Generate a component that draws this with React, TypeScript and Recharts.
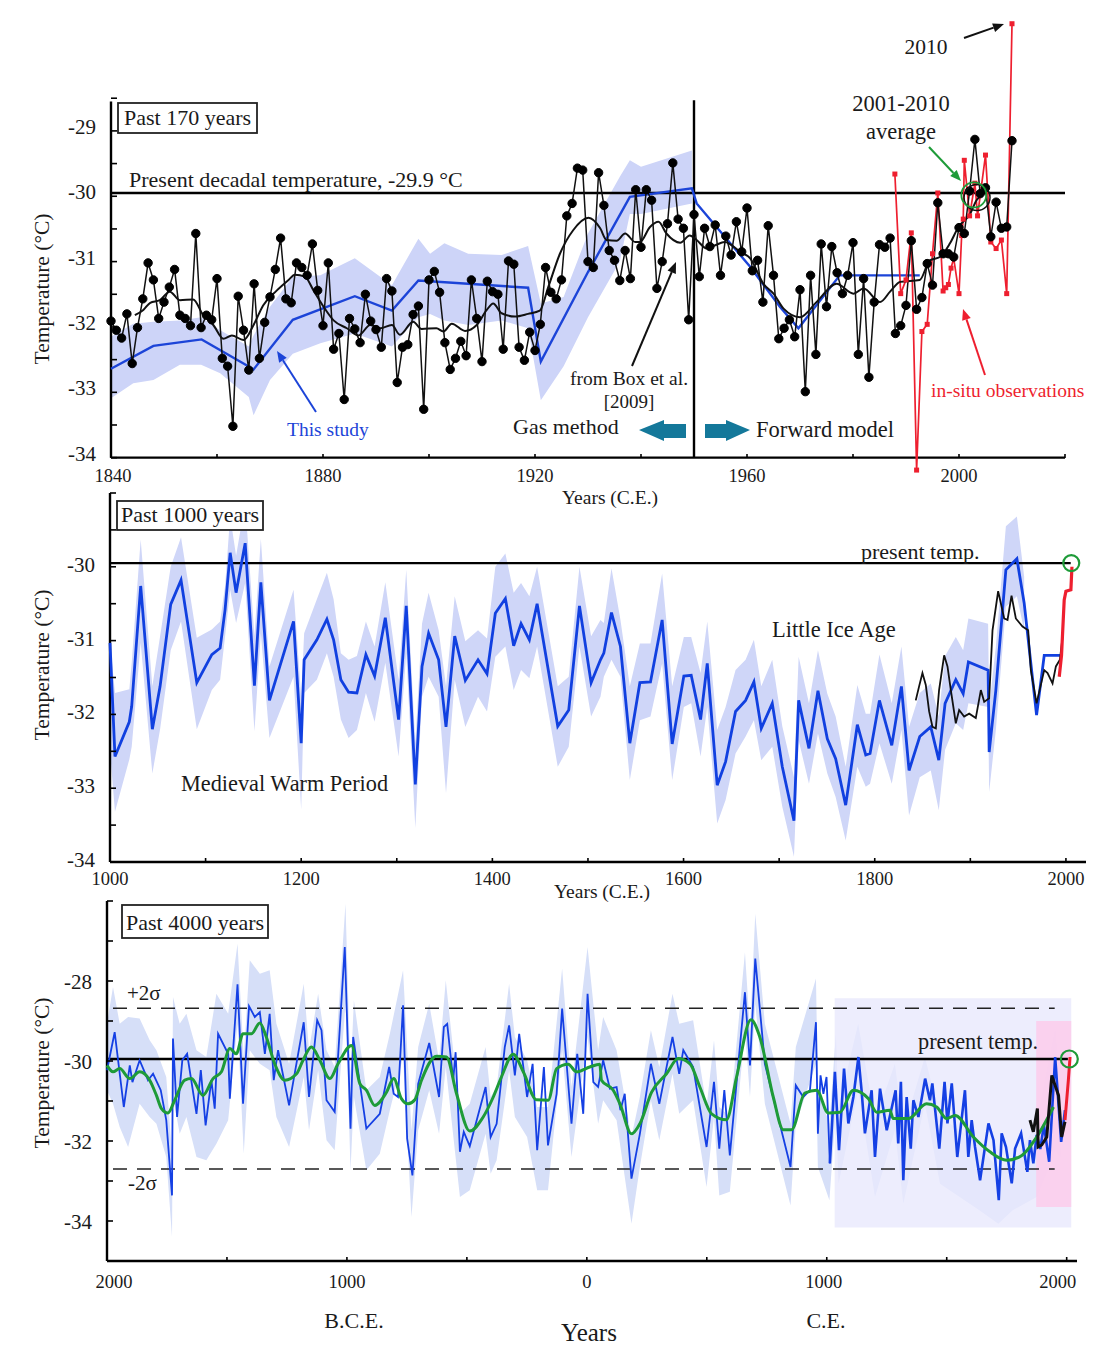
import { ComposedChart, Line, Area, XAxis, YAxis, ReferenceLine, ReferenceArea, ReferenceDot } from "recharts";

type Pair = [number, number];
type Triple = [number, number, number];

const SERIF = '"Liberation Serif", serif';
const INK = "#1a1a1a";
const BLUE = "#1c44d8";
const RED = "#ee1f2f";
const GREEN = "#1e9b38";
const PRESENT = -29.95;

// Panel 1, past 170 years
const ANNUAL_START = 1840;
const annualTemps = [
  -31.91, -32.05, -32.17, -31.8, -32.56, -32.01, -31.57, -31.02, -31.28, -31.87,
  -31.62, -31.39, -31.12, -31.82, -31.87, -31.98, -30.57, -32.01, -31.82, -31.89,
  -31.26, -32.48, -32.6, -33.52, -31.53, -32.05, -32.66, -31.34, -32.48, -31.93,
  -31.54, -31.12, -30.64, -31.57, -31.63, -31.02, -31.09, -31.21, -30.73, -31.44,
  -31.98, -31.02, -32.34, -32.1, -33.11, -31.87, -32.03, -32.24, -31.5, -31.91,
  -32.04, -32.31, -31.26, -31.45, -32.85, -32.31, -32.27, -31.81, -31.68, -33.26,
  -31.28, -31.15, -31.47, -32.24, -32.65, -32.48, -32.22, -32.44, -31.28, -31.87,
  -32.53, -31.3, -31.46, -31.5, -32.34, -30.99, -31.04, -32.31, -32.51, -32.08,
  -32.36, -31.96, -31.09, -31.47, -31.57, -31.28, -30.3, -30.11, -29.57, -29.6,
  -31.0, -31.09, -29.64, -30.14, -30.83, -30.98, -31.29, -30.83, -31.26, -29.9,
  -30.78, -29.9, -30.06, -31.41, -31.0, -30.42, -29.49, -30.35, -30.49, -31.89,
  -30.28, -31.23, -30.49, -30.77, -30.44, -31.21, -30.61, -30.9, -30.39, -30.85,
  -30.18, -31.14, -30.98, -31.62, -30.45, -31.21, -32.18, -32.02, -31.89, -32.15,
  -31.43, -32.99, -31.21, -32.42, -30.73, -31.69, -30.77, -31.17, -31.49, -31.21,
  -30.71, -32.42, -31.26, -32.77, -31.62, -30.74, -30.78, -30.64, -32.1, -31.98,
  -31.67, -30.68, -31.73, -31.55, -31.03, -31.36, -30.1, -30.88, -30.88, -30.93,
  -30.48, -30.57, -29.92, -29.13, -29.96, -29.87, -30.62, -30.09, -30.49, -30.47,
  -29.15,
];
const boxSmooth: Pair[] = [
  [1844.5, -31.82], [1846.1, -31.74], [1847.4, -31.63], [1849.2, -31.59], [1851.1, -31.46], [1853, -31.59],
  [1855.5, -31.58], [1857.4, -31.82], [1859.3, -31.97], [1861.2, -32.18], [1862.8, -32.13], [1865, -32.2],
  [1866.9, -31.97], [1868.7, -31.67], [1871.3, -31.44], [1873.5, -31.28], [1874.7, -31.2], [1876.6, -31.23],
  [1878.2, -31.44], [1880.1, -31.69], [1882, -31.9], [1884.5, -32.02], [1886.7, -32.13], [1888.9, -31.97],
  [1890.8, -32.02], [1893, -31.97], [1894.5, -32.12], [1897, -31.92], [1898.6, -32.03], [1901.4, -32.02],
  [1902.7, -32.07], [1904.3, -31.95], [1906.8, -32.06], [1909, -31.97], [1910.9, -31.74], [1912.1, -31.64],
  [1913.7, -31.79], [1916.2, -31.84], [1918.7, -31.8], [1920.9, -31.75], [1922.5, -31.39], [1924.7, -30.88],
  [1927.2, -30.52], [1930.1, -30.33], [1932.3, -30.49], [1933.5, -30.67], [1935.4, -30.68], [1937, -30.57],
  [1938.9, -30.7], [1939.8, -30.7], [1941.7, -30.47], [1943.3, -30.39], [1944.8, -30.57], [1947.4, -30.71],
  [1949.2, -30.6], [1950.5, -30.67], [1952.4, -30.8], [1954, -30.75], [1955.8, -30.7], [1958.7, -30.85],
  [1960.6, -30.95], [1963.1, -31.34], [1965, -31.49], [1966.9, -31.72], [1970, -31.85], [1973.1, -31.62],
  [1976.9, -31.34], [1980.1, -31.49], [1982, -31.41], [1985.1, -31.62], [1987, -31.46], [1988.9, -31.31],
  [1992.6, -31.28], [1994.5, -30.98], [1996.4, -30.93], [1998.3, -30.72], [1999.9, -30.47], [2002.1, -30.27],
  [2003.3, -30.06], [2004.6, -29.96],
];
const studyLine: Pair[] = [
  [1840, -32.64], [1848, -32.29], [1857.1, -32.19], [1865.9, -32.6], [1866.9, -32.65], [1874.3, -31.89],
  [1886, -31.53], [1893, -31.75], [1898, -31.29], [1918.7, -31.4], [1921.1, -32.53], [1930, -31.16],
  [1937.9, -30.01], [1949.6, -29.88], [1950.5, -30.11], [1960.6, -31.08], [1966.2, -31.69], [1969.7, -32.02],
  [1977.5, -31.21], [1992.6, -31.21],
];
const studyBand: Triple[] = [
  [1840, -33.09, -32.15], [1844.2, -32.86, -31.95], [1848, -32.81, -31.92], [1853, -32.58, -31.9],
  [1857, -32.58, -31.85], [1860.6, -32.71, -32.05], [1866, -33.07, -32.3], [1866.9, -33.35, -32.13],
  [1870, -32.81, -31.69], [1874.3, -32.41, -31.23], [1879.5, -32.25, -31.21], [1886, -32.1, -30.95],
  [1893, -32.3, -31.36], [1898, -31.85, -30.65], [1900.2, -31.8, -30.88], [1902.9, -31.9, -30.72],
  [1907.4, -31.97, -30.88], [1913.7, -31.9, -30.9], [1918.7, -32.02, -30.76], [1921.1, -33.12, -31.64],
  [1925.4, -32.6, -31.54], [1930, -31.85, -30.57], [1936, -31.0, -29.7], [1937.9, -30.27, -29.45],
  [1940, -30.27, -29.55], [1949.6, -30.11, -29.3],
];
const insituObs: Pair[] = [
  [1987.9, -29.66], [1989, -31.49], [1990, -31.28], [1991, -30.56], [1992, -34.19], [1993, -32.07],
  [1994, -31.96], [1995, -30.88], [1996, -29.95], [1997, -31.45], [1997.5, -31.4], [1998, -31.35],
  [1998.5, -31.1], [1999, -30.95], [2000, -31.49], [2000.5, -30.6], [2000.8, -30.35], [2001, -29.45],
  [2002, -30.3], [2003, -29.8], [2003.5, -30.3], [2005, -29.37], [2006, -30.7], [2007, -30.8],
  [2008, -30.67], [2009, -31.49], [2010, -27.36],
];

// Panel 2, past 1000 years: year, temperature
const milLine: Pair[] = [
  [1000, -31.03], [1005.2, -32.57], [1020.2, -32.1], [1022.7, -31.89], [1032.1, -30.26], [1044.3, -32.2],
  [1052.4, -31.62], [1063.5, -30.51], [1074.3, -30.18], [1090.8, -31.57], [1106.5, -31.19], [1115.2, -31.1],
  [1120.4, -30.58], [1125.7, -29.81], [1131.9, -30.35], [1141.4, -29.68], [1151.1, -31.61], [1157.8, -30.21],
  [1166.8, -31.81], [1192, -30.74], [1200, -32.39], [1203.1, -31.26], [1216.4, -30.99], [1226.9, -30.71],
  [1233.9, -30.99], [1241.5, -31.53], [1249.6, -31.7], [1258.3, -31.71], [1267.7, -31.19], [1276.8, -31.48],
  [1288, -30.69], [1301.9, -32.07], [1309.9, -30.53], [1319.4, -32.95], [1326.4, -31.35], [1333.3, -30.9],
  [1343.8, -31.26], [1351.5, -32.17], [1360.6, -30.94], [1371.7, -31.54], [1385, -31.26], [1394.4, -31.45],
  [1403.1, -30.63], [1413.6, -30.43], [1422.3, -31.07], [1430, -30.77], [1438.7, -30.99], [1446.8, -30.5],
  [1468.4, -32.16], [1479.9, -31.94], [1491.1, -30.53], [1503.3, -31.57], [1513.1, -31.26], [1516.6, -31.17],
  [1524.6, -30.62], [1534, -31.08], [1543.8, -32.39], [1554.3, -31.57], [1565.4, -31.56], [1577.6, -30.72],
  [1588.1, -32.4], [1600.3, -31.48], [1608, -31.47], [1617.8, -32.07], [1624.8, -31.31], [1635.2, -32.96],
  [1644, -32.64], [1654.4, -31.96], [1664.9, -31.81], [1673.6, -31.56], [1681.3, -32.19], [1692.8, -31.85],
  [1703.3, -32.71], [1715.5, -33.44], [1720.4, -31.81], [1731.2, -32.46], [1740.6, -31.68], [1750.4, -32.33],
  [1759.1, -32.6], [1769.6, -33.23], [1781.8, -32.14], [1790.6, -32.55], [1795.1, -32.53], [1804.9, -31.81],
  [1817.8, -32.42], [1827.9, -31.62], [1835.9, -32.76], [1847.1, -32.3], [1858.6, -32.17], [1867, -32.62],
  [1873.6, -31.85], [1884.8, -31.53], [1892.5, -31.72], [1898, -31.29], [1918.6, -31.4], [1919.7, -32.51],
  [1926.7, -31.67], [1937.2, -30.04], [1948.7, -29.89], [1956.3, -30.49], [1969.3, -32.01], [1977.3, -31.2],
  [1993.7, -31.2],
];
// year, low, high
const milBand: Triple[] = [
  [1000, -32.5, -31.0], [1005.2, -33.32, -31.71], [1020.2, -32.61, -31.66], [1022.7, -32.44, -31.3],
  [1032.1, -31.03, -29.63], [1044.3, -32.8, -31.62], [1052.4, -32.2, -30.94], [1063.5, -31.13, -30.0],
  [1074.3, -30.74, -29.6], [1090.8, -32.2, -30.96], [1106.5, -31.67, -30.85], [1115.2, -31.53, -30.74],
  [1120.4, -30.94, -30.26], [1125.7, -30.31, -29.31], [1131.9, -30.76, -29.85], [1141.4, -30.22, -29.13],
  [1151.1, -32.23, -30.94], [1157.8, -30.9, -29.62], [1166.8, -32.32, -31.35], [1192, -31.49, -30.31],
  [1200, -33.29, -31.76], [1203.1, -31.71, -30.9], [1216.4, -31.53, -30.44], [1226.9, -31.17, -30.08],
  [1233.9, -31.49, -30.44], [1241.5, -32.07, -31.17], [1249.6, -32.32, -31.26], [1258.3, -32.21, -31.21],
  [1267.7, -31.71, -30.74], [1276.8, -32.1, -31.08], [1288, -31.3, -30.21], [1301.9, -32.57, -31.53],
  [1309.9, -31.17, -30.04], [1319.4, -33.54, -32.39], [1326.4, -31.76, -30.77], [1333.3, -31.49, -30.35],
  [1343.8, -31.76, -30.86], [1351.5, -33.07, -31.62], [1360.6, -31.53, -30.4], [1371.7, -32.17, -31.01],
  [1385, -31.76, -30.86], [1394.4, -31.96, -30.97], [1403.1, -31.22, -30.0], [1413.6, -31.08, -29.82],
  [1422.3, -31.67, -30.35], [1430, -31.4, -30.22], [1438.7, -31.51, -30.4], [1446.8, -31.08, -30.0],
  [1468.4, -32.71, -31.62], [1479.9, -32.44, -31.49], [1491.1, -31.08, -30.0], [1503.3, -32.03, -30.94],
  [1513.1, -31.76, -30.72], [1516.6, -31.49, -30.76], [1524.6, -31.26, -30.02], [1534, -31.49, -30.72],
  [1543.8, -32.89, -31.62], [1554.3, -32.08, -31.04], [1565.4, -32.03, -31.04], [1577.6, -31.31, -30.09],
  [1588.1, -32.89, -31.62], [1600.3, -31.9, -30.95], [1608, -31.85, -30.95], [1617.8, -32.57, -31.44],
  [1624.8, -31.9, -30.74], [1635.2, -33.48, -32.21], [1644, -33.16, -31.9], [1654.4, -32.53, -31.4],
  [1664.9, -32.3, -31.26], [1673.6, -32.08, -30.99], [1681.3, -32.62, -31.62], [1692.8, -32.44, -31.26],
  [1703.3, -33.25, -32.16], [1715.5, -33.93, -32.85], [1720.4, -32.35, -31.22], [1731.2, -32.94, -31.85],
  [1740.6, -32.26, -31.13], [1750.4, -32.8, -31.72], [1759.1, -33.12, -32.03], [1769.6, -33.71, -32.71],
  [1781.8, -32.71, -31.6], [1790.6, -32.98, -31.99], [1795.1, -32.94, -31.99], [1804.9, -32.39, -31.19],
  [1817.8, -32.94, -31.85], [1827.9, -32.21, -31.08], [1835.9, -33.37, -32.17], [1847.1, -32.85, -31.71],
  [1858.6, -32.76, -31.58], [1867, -33.3, -32.03], [1873.6, -32.48, -31.21], [1884.8, -32.12, -30.95],
  [1892.5, -32.21, -31.13], [1898, -31.85, -30.7], [1918.6, -31.9, -30.77], [1919.7, -33.05, -31.9],
  [1926.7, -32.21, -31.08], [1937.2, -30.54, -29.45], [1948.7, -30.4, -29.32], [1956.3, -30.86, -30.13],
];
const milBlack: Pair[] = [
  [1842.9, -31.81], [1846.4, -31.62], [1849.9, -31.44], [1853.4, -31.6], [1856.9, -31.96], [1860.4, -32.17],
  [1863.9, -32.19], [1867.3, -31.67], [1872.6, -31.2], [1876.1, -31.35], [1879.6, -31.67], [1884.8, -32.12],
  [1888.3, -31.94], [1893.5, -32.03], [1898.8, -31.99], [1905.7, -32.05], [1911, -31.67], [1914.5, -31.83],
  [1919.7, -31.78], [1923.2, -30.86], [1929.1, -30.33], [1935.4, -30.7], [1938.9, -30.72], [1943.1, -30.39],
  [1947.6, -30.7], [1954.6, -30.81], [1960.5, -30.86], [1963.3, -31.4], [1969.3, -31.85], [1977.3, -31.4],
  [1980.8, -31.44], [1986, -31.58], [1989.5, -31.35], [1993.7, -31.26], [1996.5, -30.95],
];
const milRed: Pair[] = [
  [1993, -31.49], [1995.4, -31.2], [1998.2, -30.45], [2000, -30.33], [2005.2, -30.31], [2006.3, -30.0],
];

// Panel 3, past 4000 years
const longLine: Pair[] = [
  [-2000, -30.23], [-1968, -29.28], [-1930, -31.15], [-1905, -30.11], [-1894, -30.53], [-1864, -29.98],
  [-1829, -30.48], [-1808, -30.32], [-1776, -30.73], [-1753, -31.48], [-1729, -33.36], [-1725, -29.44],
  [-1708, -31.4], [-1686, -29.98], [-1666, -29.82], [-1627, -31.32], [-1609, -30.23], [-1589, -31.61],
  [-1565, -30.48], [-1551, -31.19], [-1537, -29.32], [-1495, -29.82], [-1488, -30.94], [-1456, -28.08],
  [-1433, -31.07], [-1408, -28.63], [-1384, -28.9], [-1363, -28.78], [-1342, -29.82], [-1322, -28.82],
  [-1305, -30.48], [-1287, -29.73], [-1241, -31.11], [-1180, -29.03], [-1158, -30.9], [-1124, -28.98],
  [-1106, -29.23], [-1085, -30.98], [-1051, -31.27], [-1009, -27.15], [-985, -31.69], [-974, -29.4],
  [-919, -31.69], [-863, -31.32], [-824, -30.15], [-805, -30.82], [-787, -30.9], [-766, -28.61],
  [-749, -31.94], [-727, -32.86], [-703, -30.57], [-657, -29.55], [-616, -30.9], [-596, -29.15],
  [-582, -29.07], [-557, -30.48], [-547, -29.78], [-529, -32.27], [-513, -31.77], [-488, -32.13],
  [-422, -30.65], [-401, -31.9], [-376, -31.57], [-342, -29.65], [-324, -29.11], [-300, -30.36],
  [-282, -29.32], [-249, -30.9], [-226, -30.07], [-207, -32.23], [-179, -30.15], [-162, -32.11],
  [-126, -30.82], [-103, -28.69], [-64, -31.57], [-40, -29.82], [-15, -31.32], [3, -28.32],
  [27, -30.53], [47, -30.65], [68, -29.98], [96, -30.69], [124, -30.65], [140, -31.23],
  [158, -30.82], [186, -32.94], [221, -31.82], [267, -30.07], [302, -31.07], [357, -29.4],
  [385, -30.32], [402, -29.73], [443, -30.15], [499, -32.15], [530, -30.52], [552, -32.19],
  [573, -30.73], [596, -32.36], [659, -28.28], [680, -30.11], [702, -27.44], [742, -30.07],
  [849, -32.65], [871, -30.61], [902, -30.9], [930, -30.73], [955, -29.03], [963, -31.82],
  [974, -30.36], [986, -30.82], [999, -30.4], [1013, -32.56],
];
// after 1000 C.E. the series is drawn heavier
const recentLine: Pair[] = [
  [1013, -32.56], [1034, -30.27], [1051, -32.23], [1072, -30.19], [1090, -31.56], [1111, -30.9],
  [1132, -29.9], [1145, -30.73], [1159, -31.81], [1187, -30.73], [1201, -32.4], [1222, -30.69],
  [1250, -31.73], [1287, -30.73], [1298, -32.06], [1309, -30.52], [1319, -32.98], [1333, -30.9],
  [1350, -32.19], [1361, -30.98], [1382, -31.4], [1410, -30.44], [1430, -30.98], [1440, -30.56],
  [1469, -32.19], [1491, -30.52], [1503, -31.56], [1521, -30.56], [1544, -32.4], [1576, -30.73],
  [1590, -32.4], [1604, -31.48], [1618, -32.15], [1639, -32.98], [1674, -31.56], [1695, -31.98],
  [1717, -33.48], [1729, -31.81], [1747, -32.15], [1771, -33.06], [1785, -32.19], [1810, -31.81],
  [1836, -32.77], [1847, -31.98], [1861, -32.56], [1875, -31.85], [1890, -32.2], [1905, -31.6],
  [1927, -32.52], [1952, -29.9], [1977, -32.02], [1993, -31.23],
];
const longBand: Triple[] = [
  [-2000, -30.73, -29.07], [-1975, -31.07, -28.15], [-1947, -31.65, -29.07], [-1912, -32.15, -28.9],
  [-1864, -31.07, -28.94], [-1822, -31.4, -29.48], [-1794, -31.57, -29.73], [-1753, -32.4, -30.4],
  [-1729, -34.4, -32.32], [-1725, -30.9, -28.4], [-1697, -31.82, -29.07], [-1669, -31.4, -28.82],
  [-1627, -32.4, -29.73], [-1586, -32.48, -29.9], [-1544, -32.07, -28.32], [-1495, -31.48, -28.82],
  [-1456, -29.07, -27.07], [-1430, -32.32, -29.9], [-1405, -29.73, -27.48], [-1363, -30.07, -27.82],
  [-1322, -30.23, -27.73], [-1294, -31.4, -29.07], [-1241, -32.15, -30.07], [-1180, -30.4, -28.07],
  [-1158, -31.73, -29.73], [-1120, -30.23, -28.32], [-1085, -31.98, -29.73], [-1051, -32.23, -30.15],
  [-1006, -28.57, -26.07], [-985, -32.73, -30.4], [-971, -30.9, -28.48], [-919, -32.73, -30.73],
  [-863, -32.32, -30.4], [-821, -31.23, -29.32], [-766, -29.9, -27.73], [-731, -33.9, -31.73],
  [-703, -31.73, -29.65], [-657, -30.73, -28.57], [-616, -31.82, -29.98], [-588, -30.15, -27.98],
  [-529, -33.4, -31.32], [-488, -33.23, -31.07], [-422, -31.82, -29.65], [-401, -32.82, -30.9],
  [-376, -32.48, -30.65], [-324, -30.23, -28.07], [-300, -31.4, -29.4], [-249, -31.9, -29.98],
  [-207, -33.23, -31.15], [-162, -33.23, -31.15], [-103, -29.73, -27.69], [-64, -32.4, -30.65],
  [3, -29.4, -27.15], [47, -31.57, -29.73], [68, -30.98, -28.9], [124, -31.48, -29.73],
  [186, -34.07, -31.9], [221, -32.65, -30.9], [267, -30.98, -29.23], [302, -31.98, -30.15],
  [357, -30.32, -28.32], [385, -31.32, -29.07], [443, -30.98, -28.98], [499, -33.15, -31.15],
  [530, -31.4, -29.48], [552, -33.36, -31.15], [596, -33.27, -31.4], [659, -29.23, -27.28],
  [680, -30.9, -29.23], [702, -28.57, -26.32], [742, -31.07, -29.07], [849, -33.61, -31.57],
  [871, -31.57, -29.65], [955, -30.07, -27.94], [963, -32.65, -30.73], [1011, -33.48, -31.57],
  [1038, -31.23, -29.32], [1049, -33.07, -31.15], [1131, -30.73, -29.07], [1201, -33.4, -31.48],
  [1284, -31.73, -30.07], [1319, -33.57, -31.73], [1409, -31.07, -29.9], [1472, -33.07, -31.4],
  [1636, -33.73, -32.07], [1715, -34.07, -32.73], [1775, -33.73, -32.57], [1875, -33.4, -31.57],
  [1952, -32.23, -29.23], [1975, -32.4, -31.15],
];
const longGreen: Pair[] = [
  [-2000, -30.11], [-1975, -30.27], [-1947, -30.19], [-1905, -30.44], [-1864, -30.27], [-1822, -30.48],
  [-1794, -30.86], [-1773, -31.19], [-1746, -31.3], [-1718, -30.98], [-1676, -30.48], [-1648, -30.44],
  [-1600, -30.86], [-1558, -30.44], [-1523, -30.27], [-1488, -29.69], [-1461, -29.82], [-1433, -29.32],
  [-1398, -29.32], [-1363, -29.05], [-1336, -29.4], [-1301, -30.07], [-1259, -30.48], [-1210, -30.32],
  [-1183, -29.98], [-1148, -29.65], [-1113, -29.98], [-1071, -30.44], [-1037, -30.07], [-981, -29.61],
  [-946, -30.57], [-919, -30.73], [-884, -31.11], [-835, -30.78], [-805, -30.44], [-773, -30.94],
  [-745, -31.07], [-717, -30.97], [-689, -30.48], [-627, -29.88], [-585, -29.9], [-543, -30.82],
  [-488, -31.75], [-432, -31.4], [-390, -30.9], [-356, -30.4], [-307, -29.83], [-265, -30.27],
  [-210, -30.97], [-161, -30.98], [-126, -30.19], [-78, -30.08], [-43, -30.27], [12, -30.15],
  [54, -30.08], [61, -30.48], [110, -30.73], [138, -31.07], [186, -31.82], [221, -31.57],
  [270, -30.78], [332, -30.32], [381, -29.94], [430, -30.07], [471, -30.65], [520, -31.32],
  [582, -31.47], [624, -30.4], [684, -28.97], [721, -29.4], [777, -30.9], [819, -31.72],
  [853, -31.72], [909, -30.8], [958, -30.73], [1006, -31.3], [1055, -31.28], [1111, -30.73],
  [1173, -30.94], [1208, -31.28], [1263, -31.23], [1277, -31.44], [1340, -31.44], [1416, -31.07],
  [1458, -31.15], [1500, -31.44], [1535, -31.36], [1611, -31.9], [1680, -32.27], [1750, -32.48],
  [1813, -32.36], [1875, -31.9], [1945, -31.15],
];
const longBlack: Pair[] = [
  [1847, -31.48], [1861, -31.77], [1878, -31.19], [1881, -32.15], [1896, -32.1], [1917, -31.9],
  [1938, -30.36], [1949, -30.56], [1966, -30.86], [1979, -31.9], [1993, -31.52],
];
const longRed: Pair[] = [[1993, -31.48], [2007, -30.48], [2014, -29.9]];

const toLine = (rows: Pair[]) => rows.map(([year, t]) => ({ year, t }));
const toBand = (rows: Triple[]) => rows.map(([year, lo, hi]) => ({ year, range: [lo, hi] }));
const annualRows = annualTemps.map((t, i) => ({ year: ANNUAL_START + i, t }));

const label = (x: number, y: number, s: string, size = 20, anchor = "middle", fill = INK) => (
  <text x={x} y={y} fontSize={size} fontFamily={SERIF} textAnchor={anchor} fill={fill}>{s}</text>
);

function makeXTick(gap: number, labels: Record<number, string>, shift: Record<number, number>, labelY: number, size = 18.5) {
  return (p: any) => {
    const v = p.payload.value;
    return (
      <g>
        <line x1={p.x} x2={p.x} y1={p.y - gap} y2={p.y - gap - 4} stroke="#000" strokeWidth={1.6} />
        {labels[v] && (
          <text x={p.x + (shift[v] || 0)} y={p.y + labelY} fontSize={size} fontFamily={SERIF} textAnchor="middle" fill={INK}>
            {labels[v]}
          </text>
        )}
      </g>
    );
  };
}

function makeYTick(labels: Record<number, string>, labelDy: number) {
  return (p: any) => {
    const v = p.payload.value;
    return (
      <g>
        <line x1={p.x} x2={p.x + 6} y1={p.y} y2={p.y} stroke="#000" strokeWidth={1.6} />
        {labels[v] && (
          <text x={p.x - 15} y={p.y + labelDy} fontSize={21} fontFamily={SERIF} textAnchor="end" fill={INK}>
            {labels[v]}
          </text>
        )}
      </g>
    );
  };
}

const redSquare = (size: number) => (p: any) => (
  <rect key={p.index} x={p.cx - size / 2} y={p.cy - size / 2} width={size} height={size} fill={RED} />
);

const frame = (x0: number, x1: number, y0: number, y1: number) => (
  <>
    <ReferenceLine segment={[{ x: x0, y: y0 }, { x: x1, y: y0 }]} stroke="#000" strokeWidth={2.4} ifOverflow="visible" />
    <ReferenceLine segment={[{ x: x0, y: y0 }, { x: x0, y: y1 }]} stroke="#000" strokeWidth={2.4} ifOverflow="visible" />
  </>
);

function Arrow({ x1, y1, x2, y2, color, w = 2 }: any) {
  const a = Math.atan2(y2 - y1, x2 - x1);
  const L = 11;
  const H = 4.5;
  const bx = x2 - L * Math.cos(a);
  const by = y2 - L * Math.sin(a);
  const pts = `${x2},${y2} ${bx - H * Math.sin(a)},${by + H * Math.cos(a)} ${bx + H * Math.sin(a)},${by - H * Math.cos(a)}`;
  return (
    <g>
      <line x1={x1} y1={y1} x2={bx} y2={by} stroke={color} strokeWidth={w} />
      <polygon points={pts} fill={color} />
    </g>
  );
}

function Overlay() {
  const box = (x: number, y: number, w: number, h: number, s: string) => (
    <g>
      <rect x={x} y={y} width={w} height={h} fill="#fff" stroke="#222" strokeWidth={1.8} />
      <text x={x + w / 2} y={y + h - 8} fontSize={22} fontFamily={SERIF} textAnchor="middle" fill={INK}>{s}</text>
    </g>
  );
  const yTitle = (cy: number) => (
    <text transform={`translate(49 ${cy}) rotate(-90)`} fontSize={21.5} fontFamily={SERIF} textAnchor="middle" fill={INK}>
      Temperature (°C)
    </text>
  );
  return (
    <svg width={1111} height={1357} style={{ position: "absolute", left: 0, top: 0, pointerEvents: "none" }}>
      {box(118, 103, 139, 30, "Past 170 years")}
      {yTitle(289)}
      {label(129, 187, "Present decadal temperature, -29.9 °C", 22, "start")}
      {label(926, 54, "2010", 21.5)}
      <Arrow x1={964} y1={38} x2={1004} y2={24} color="#111" />
      {label(901, 111, "2001-2010", 22.5)}
      {label(901, 139, "average", 22.5)}
      <Arrow x1={929} y1={147} x2={961} y2={181} color={GREEN} />
      {label(287, 436, "This study", 19.5, "start", BLUE)}
      <Arrow x1={316} y1={412} x2={277} y2={351} color={BLUE} />
      {label(629, 385, "from Box et al.", 19.5)}
      {label(629, 408, "[2009]", 19)}
      <Arrow x1={632} y1={366} x2={676} y2={262} color="#111" />
      {label(513, 434, "Gas method", 22, "start")}
      {label(756, 437, "Forward model", 22.5, "start")}
      <polygon points="639,430 664,420 664,424 686,424 686,438 664,438 664,441" fill="#14789a" />
      <polygon points="750,430 726,420 726,424 705,424 705,438 726,438 726,441" fill="#14789a" />
      {label(931, 397, "in-situ observations", 19.5, "start", RED)}
      <Arrow x1={985} y1={375} x2={963} y2={309} color={RED} />
      {label(610, 504, "Years (C.E.)", 19.5)}

      {box(117, 501, 146, 29, "Past 1000 years")}
      {yTitle(665)}
      {label(861, 559, "present temp.", 22, "start")}
      {label(772, 637, "Little Ice Age", 22.5, "start")}
      {label(181, 791, "Medieval Warm Period", 22.3, "start")}
      {label(602, 898, "Years (C.E.)", 19.5)}

      {box(122, 905, 146, 33, "Past 4000 years")}
      {yTitle(1073)}
      {label(127, 1000, "+2σ", 21, "start")}
      {label(128, 1190, "-2σ", 21, "start")}
      {label(918, 1049, "present temp.", 22.3, "start")}
      {label(354, 1328, "B.C.E.", 22)}
      {label(826, 1328, "C.E.", 22)}
      {label(589, 1341, "Years", 25)}
    </svg>
  );
}

function Past170() {
  const xLabels = { 1840: "1840", 1880: "1880", 1920: "1920", 1960: "1960", 2000: "2000" };
  const yLabels = { [-29]: "-29", [-30]: "-30", [-31]: "-31", [-32]: "-32", [-33]: "-33", [-34]: "-34" };
  return (
    <ComposedChart width={1111} height={500} margin={{ top: 10, right: 46, bottom: 0, left: 0 }} style={{ position: "absolute", left: 0, top: 0 }}>
      <XAxis
        type="number" dataKey="year" domain={[1840, 2020]} height={26} interval={0}
        ticks={[1840, 1860, 1880, 1900, 1920, 1940, 1960, 1980, 2000, 2020]}
        axisLine={false} tickLine={false} tickSize={0} tickMargin={0}
        tick={makeXTick(16, xLabels, { 1840: 2 }, 8)}
      />
      <YAxis
        type="number" domain={[-34.25, -27.15]} width={111} interval={0}
        ticks={[-34, -33.5, -33, -32.5, -32, -31.5, -31, -30.5, -30, -29.5, -29, -28.5]}
        axisLine={false} tickLine={false} tickSize={0} tickMargin={0}
        tick={makeYTick(yLabels, 3)}
      />
      {frame(1840, 2020, -34, -28.55)}
      <Area data={toBand(studyBand)} dataKey="range" stroke="none" fill="#cdd4f8" fillOpacity={1} isAnimationActive={false} dot={false} activeDot={false} />
      <ReferenceLine y={PRESENT} stroke="#000" strokeWidth={2.4} />
      <ReferenceLine segment={[{ x: 1950, y: -34 }, { x: 1950, y: -28.53 }]} stroke="#000" strokeWidth={2.4} ifOverflow="visible" />
      <Line data={toLine(studyLine)} dataKey="t" stroke={BLUE} strokeWidth={2.4} dot={false} isAnimationActive={false} />
      <Line data={toLine(insituObs)} dataKey="t" stroke={RED} strokeWidth={1.7} dot={redSquare(5)} isAnimationActive={false} />
      <Line data={annualRows} dataKey="t" stroke="#111" strokeWidth={1.5} dot={{ r: 4.2, fill: "#000", stroke: "#000", strokeWidth: 1 }} isAnimationActive={false} />
      <Line data={toLine(boxSmooth)} dataKey="t" stroke="#111" strokeWidth={2} type="monotone" dot={false} isAnimationActive={false} />
      <ReferenceDot x={2003.4} y={-30.02} r={13} fill="none" stroke="#111" strokeWidth={1.5} />
      <ReferenceDot x={2002.8} y={-29.98} r={12.5} fill="none" stroke={GREEN} strokeWidth={1.8} />
    </ComposedChart>
  );
}

function Past1000() {
  const xLabels = { 1000: "1000", 1200: "1200", 1400: "1400", 1600: "1600", 1800: "1800", 2000: "2000" };
  const yLabels = { [-30]: "-30", [-31]: "-31", [-32]: "-32", [-33]: "-33", [-34]: "-34" };
  return (
    <ComposedChart width={1111} height={420} margin={{ top: 13, right: 25, bottom: 0, left: 0 }} style={{ position: "absolute", left: 0, top: 480 }}>
      <XAxis
        type="number" dataKey="year" domain={[1000, 2021]} height={38} interval={0}
        ticks={[1000, 1100, 1200, 1300, 1400, 1500, 1600, 1700, 1800, 1900, 2000]}
        axisLine={false} tickLine={false} tickSize={0} tickMargin={0}
        tick={makeXTick(0, xLabels, {}, 23)}
      />
      <YAxis
        type="number" domain={[-34, -29]} width={110} interval={0}
        ticks={[-34, -33.5, -33, -32.5, -32, -31.5, -31, -30.5, -30, -29.5, -29]}
        axisLine={false} tickLine={false} tickSize={0} tickMargin={0}
        tick={makeYTick(yLabels, 5)}
      />
      {frame(1000, 2021, -34, -29)}
      <Area data={toBand(milBand)} dataKey="range" stroke="none" fill="#cfd6f8" fillOpacity={1} isAnimationActive={false} dot={false} activeDot={false} />
      <ReferenceLine segment={[{ x: 1000, y: PRESENT }, { x: 2005, y: PRESENT }]} stroke="#000" strokeWidth={2.4} />
      <Line data={toLine(milLine)} dataKey="t" stroke="#1140e0" strokeWidth={2.8} dot={false} isAnimationActive={false} />
      <Line data={toLine(milBlack)} dataKey="t" stroke="#111" strokeWidth={1.8} dot={false} isAnimationActive={false} />
      <Line data={toLine(milRed)} dataKey="t" stroke={RED} strokeWidth={3.2} dot={false} isAnimationActive={false} />
      <ReferenceDot x={2005.6} y={PRESENT} r={8} fill="none" stroke={GREEN} strokeWidth={2.2} />
    </ComposedChart>
  );
}

function Past4000() {
  const xLabels = { [-2000]: "2000", [-1000]: "1000", 0: "0", 1000: "1000", 2000: "2000" };
  const yLabels = { [-28]: "-28", [-30]: "-30", [-32]: "-32", [-34]: "-34" };
  return (
    <ComposedChart width={1111} height={420} margin={{ top: 11, right: 34, bottom: 0, left: 0 }} style={{ position: "absolute", left: 0, top: 890 }}>
      <XAxis
        type="number" dataKey="year" domain={[-2000, 2043]} height={49} interval={0}
        ticks={[-2000, -1500, -1000, -500, 0, 500, 1000, 1500, 2000]}
        axisLine={false} tickLine={false} tickSize={0} tickMargin={0}
        tick={makeXTick(0, xLabels, { [-2000]: 7, 1000: -3, 2000: -9 }, 27)}
      />
      <YAxis
        type="number" domain={[-35, -26]} width={107} interval={0}
        ticks={[-35, -34, -33, -32, -31, -30, -29, -28, -27, -26]}
        axisLine={false} tickLine={false} tickSize={0} tickMargin={0}
        tick={makeYTick(yLabels, 8)}
      />
      {frame(-2000, 2043, -35, -26)}
      <Area data={toBand(longBand)} dataKey="range" stroke="none" fill="#d6dff8" fillOpacity={1} isAnimationActive={false} dot={false} activeDot={false} />
      <ReferenceArea x1={1033} x2={2019} y1={-34.16} y2={-28.43} fill="#e9e9fc" fillOpacity={0.8} stroke="none" />
      <ReferenceArea x1={1873} x2={2019} y1={-33.65} y2={-29} fill="#fbcdec" fillOpacity={0.9} stroke="none" />
      <ReferenceLine segment={[{ x: -1975, y: -28.68 }, { x: 1950, y: -28.68 }]} stroke="#222" strokeWidth={1.6} strokeDasharray="14 10" />
      <ReferenceLine segment={[{ x: -1975, y: -32.7 }, { x: 1950, y: -32.7 }]} stroke="#222" strokeWidth={1.6} strokeDasharray="14 10" />
      <ReferenceLine segment={[{ x: -2000, y: PRESENT }, { x: 2005, y: PRESENT }]} stroke="#000" strokeWidth={2.4} />
      <Line data={toLine(longLine)} dataKey="t" stroke="#1540e4" strokeWidth={1.8} dot={false} isAnimationActive={false} />
      <Line data={toLine(recentLine)} dataKey="t" stroke="#1540e4" strokeWidth={2.6} dot={false} isAnimationActive={false} />
      <Line data={toLine(longGreen)} dataKey="t" stroke={GREEN} strokeWidth={3} type="monotone" dot={false} isAnimationActive={false} />
      <Line data={toLine(longBlack)} dataKey="t" stroke="#111" strokeWidth={3} dot={false} isAnimationActive={false} />
      <Line data={toLine(longRed)} dataKey="t" stroke={RED} strokeWidth={3} dot={false} isAnimationActive={false} />
      <ReferenceDot x={2011} y={PRESENT} r={8.5} fill="none" stroke={GREEN} strokeWidth={2.2} />
    </ComposedChart>
  );
}

export default function App() {
  return (
    <div style={{ position: "absolute", left: 0, top: 0, width: 1111, height: 1357, background: "#fff" }}>
      <Past170 />
      <Past1000 />
      <Past4000 />
      <Overlay />
    </div>
  );
}
